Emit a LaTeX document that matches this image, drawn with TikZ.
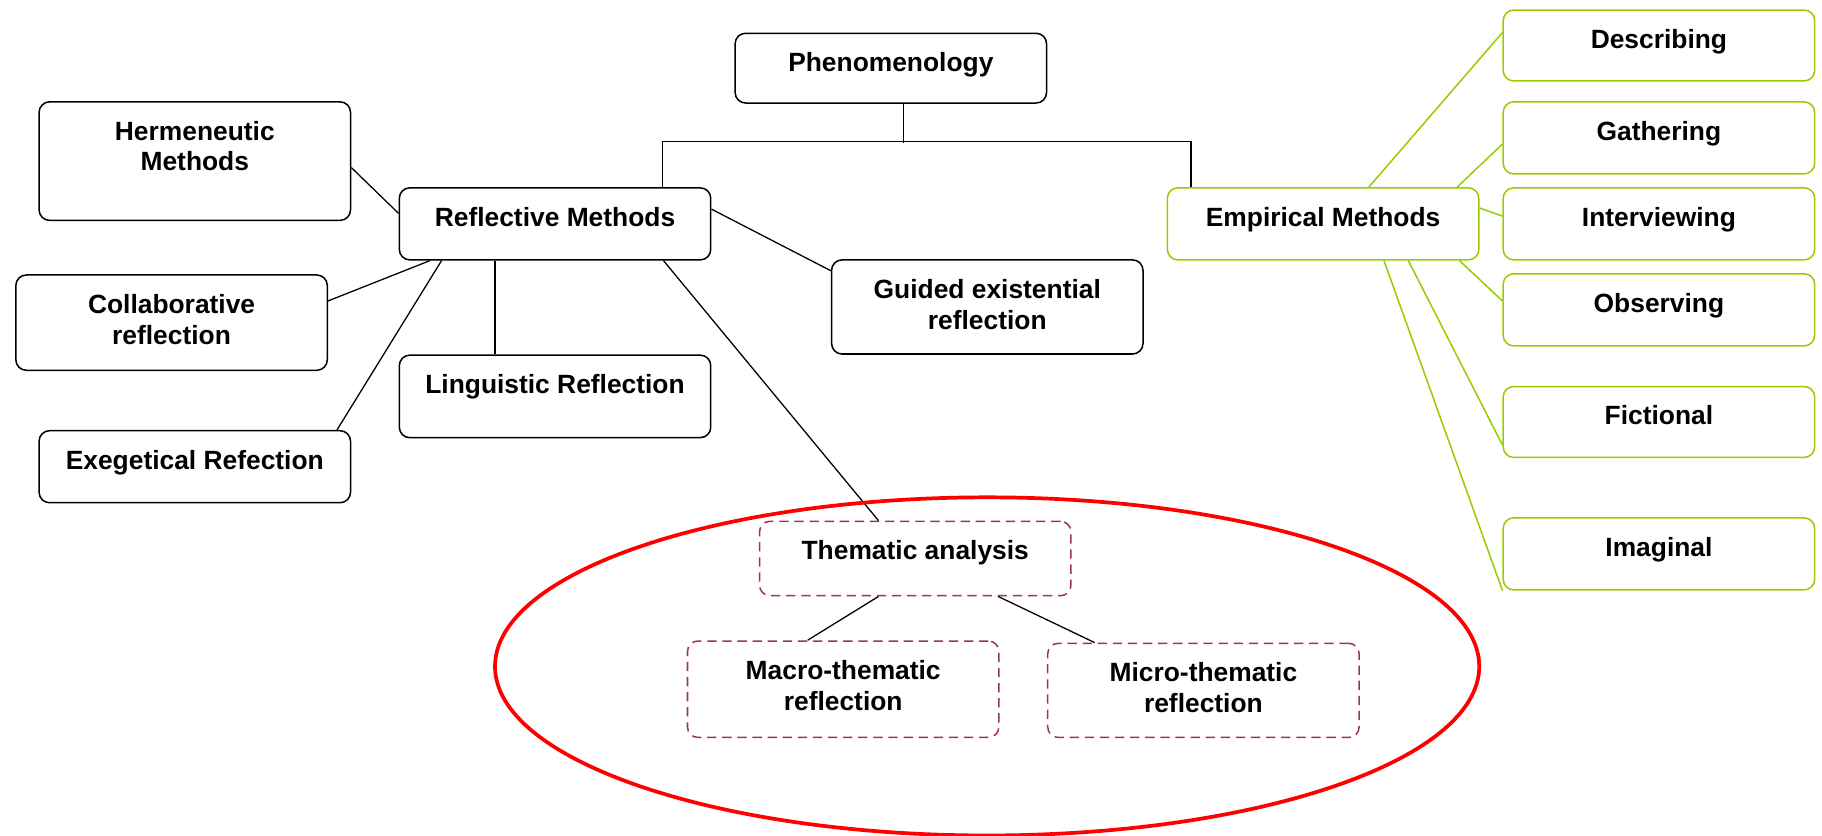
\documentclass[tikz,border=0pt]{standalone}
\usepackage{fontspec}
\setmainfont{Liberation Sans}
\definecolor{leaf}{RGB}{153,204,0}
\definecolor{plum}{RGB}{153,51,102}
% box contents: fixed height, text hung from the top
\newcommand\boxtxt[2]{\parbox[c][#1pt][t]{268pt}{\centering\rule{0pt}{33pt}#2}}

\begin{document}
\begin{tikzpicture}[x=1pt,y=-1pt,
  every node/.style={font=\bfseries\fontsize{22.7}{26.5}\selectfont},
  basebox/.style={rounded corners=9pt, fill=white, inner sep=0pt, anchor=north west, line width=1.3pt},
  blackbox/.style={basebox, draw=black},
  greenbox/.style={basebox, draw=leaf},
  dashbox/.style={basebox, draw=plum, dash pattern=on 8pt off 5pt},
  link/.style={draw=black, line width=1.1pt},
  glink/.style={draw=leaf, line width=1.3pt},
  ring/.style={draw=red, line width=3.2pt}]
\useasboundingbox (0,0) rectangle (1568,719);

% reflective side
\node[blackbox] (phen)  at (632,28)  {\boxtxt{60}{Phenomenology}};
\node[blackbox] (herm)  at (33,87)   {\boxtxt{102}{Hermeneutic\\Methods}};
\node[blackbox] (refl)  at (343,161) {\boxtxt{62}{Reflective Methods}};
\node[blackbox] (coll)  at (13,236)  {\boxtxt{82}{Collaborative\\reflection}};
\node[blackbox] (ling)  at (343,305) {\boxtxt{71}{Linguistic Reflection}};
\node[blackbox] (exeg)  at (33,370)  {\boxtxt{62}{Exegetical Refection}};
\node[blackbox] (guid)  at (715,223) {\boxtxt{81}{Guided existential\\reflection}};

% empirical side
\node[greenbox] (emp)   at (1004,161) {\boxtxt{62}{Empirical Methods}};
\node[greenbox] (desc)  at (1293,8)   {\boxtxt{61}{Describing}};
\node[greenbox] (gath)  at (1293,87)  {\boxtxt{62}{Gathering}};
\node[greenbox] (intv)  at (1293,161) {\boxtxt{62}{Interviewing}};
\node[greenbox] (obs)   at (1293,235) {\boxtxt{62}{Observing}};
\node[greenbox] (fict)  at (1293,332) {\boxtxt{61}{Fictional}};
\node[greenbox] (imag)  at (1293,445) {\boxtxt{62}{Imaginal}};

% thematic analysis
\node[dashbox] (them)  at (653,448) {\boxtxt{64}{Thematic analysis}};
\node[dashbox] (macro) at (591,551) {\boxtxt{83}{Macro-thematic\\reflection}};
\node[dashbox] (micro) at (901,553) {\boxtxt{81}{Micro-thematic\\reflection}};

% tree bracket under Phenomenology
\draw[link] ([xshift=11pt]phen.south) -- ++(0,34);
\draw[link] ([xshift=227pt]refl.north west) -- ++(0,-39) -| ([xshift=21pt]emp.north west);

% reflective methods links
\draw[link] ([yshift=-5.5pt]herm.east) -- ([yshift=9pt]refl.west);
\draw[link] ([yshift=-23pt]coll.north east) -- ([xshift=27pt]refl.south west);
\draw[link] ([xshift=257pt]exeg.north west) -- ([xshift=37pt]refl.south west);
\draw[link] ([xshift=83pt]refl.south west) -- ([xshift=83pt]ling.north west);
\draw[link] ([xshift=228pt]refl.south west) -- ([xshift=103pt]them.north west);
\draw[link] ([yshift=-19pt]refl.north east) -- ([yshift=-10pt]guid.north west);
\draw[link] ([xshift=103pt]them.south west) -- ([xshift=104pt]macro.north west);
\draw[link] ([xshift=206pt]them.south west) -- ([xshift=41pt]micro.north west);

% empirical methods links
\draw[glink] ([xshift=174pt]emp.north west) -- ([yshift=-20pt]desc.north west);
\draw[glink] ([xshift=250pt]emp.north west) -- ([yshift=-37pt]gath.north west);
\draw[glink] ([yshift=-18pt]emp.north east) -- ([yshift=-25pt]intv.north west);
\draw[glink] ([xshift=252pt]emp.south west) -- ([yshift=-24pt]obs.north west);
\draw[glink] ([xshift=208pt]emp.south west) -- ([yshift=-51pt]fict.north west);
\draw[glink] ([xshift=187pt]emp.south west) -- (imag.south west);

% ring around the thematic analysis
\draw[ring] (849.5,573.5) ellipse [x radius=423.5pt, y radius=145.5pt];
\end{tikzpicture}
\end{document}
